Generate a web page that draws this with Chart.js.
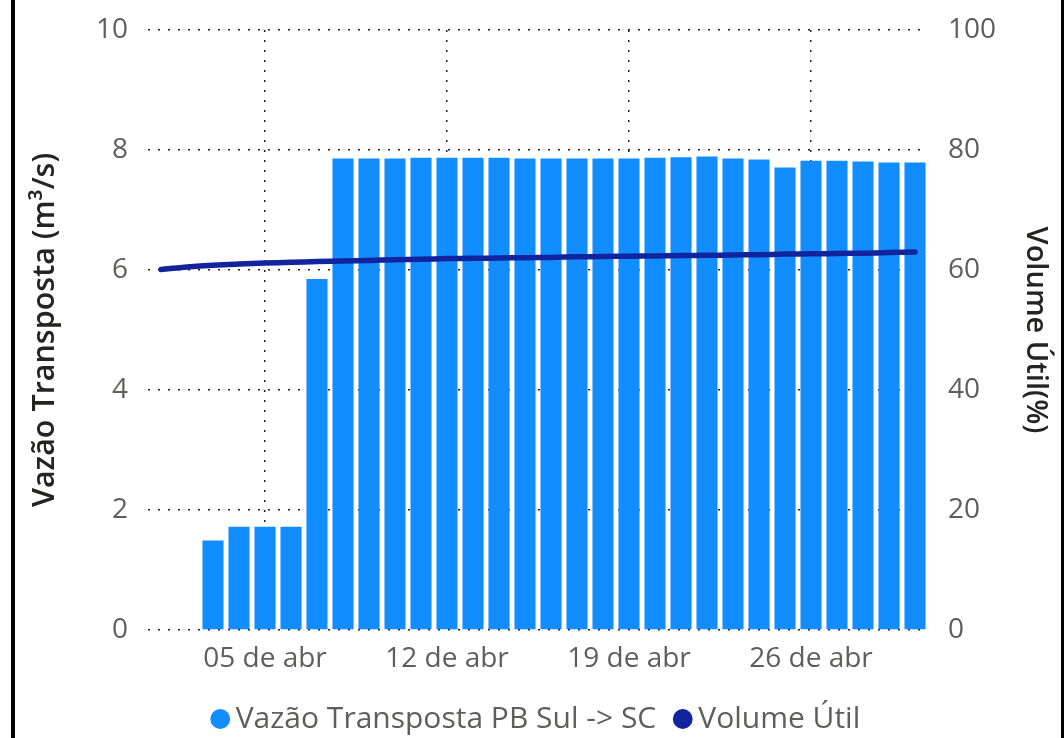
<!DOCTYPE html>
<html>
<head>
<meta charset="utf-8">
<script src="https://cdn.jsdelivr.net/npm/chart.js@4.4.1/dist/chart.umd.min.js"></script>
<style>
  html, body { margin: 0; padding: 0; background: #fff; }
  #wrap { position: relative; width: 1064px; height: 738px; overflow: hidden; }
  canvas { position: absolute; left: 0; top: 0; }
  .edge { position: absolute; top: 0; height: 738px; background: #000; }
</style>
</head>
<body>
<div id="wrap">
  <canvas id="c" width="1064" height="744"></canvas>
  <div class="edge" style="left:11px;width:4px;"></div>
  <div class="edge" style="left:1061px;width:3px;"></div>
</div>
<script>
// Days of April (category axis)
const categories = [
  '01 de abr','02 de abr','03 de abr','04 de abr','05 de abr','06 de abr','07 de abr','08 de abr','09 de abr','10 de abr',
  '11 de abr','12 de abr','13 de abr','14 de abr','15 de abr','16 de abr','17 de abr','18 de abr','19 de abr','20 de abr',
  '21 de abr','22 de abr','23 de abr','24 de abr','25 de abr','26 de abr','27 de abr','28 de abr','29 de abr','30 de abr'
];
// Vazão Transposta PB Sul -> SC (m³/s)
const vazao = [
  null, null, 1.49, 1.72, 1.72, 1.72, 5.85, 7.86, 7.86, 7.86,
  7.87, 7.87, 7.87, 7.87, 7.86, 7.86, 7.86, 7.86, 7.86, 7.87,
  7.88, 7.89, 7.86, 7.84, 7.71, 7.82, 7.82, 7.81, 7.79, 7.79
];
// Volume Útil (%)
const volumeUtil = [
  60.1, 60.5, 60.8, 61.0, 61.15, 61.3, 61.4, 61.5, 61.6, 61.7,
  61.8, 61.9, 61.95, 62.0, 62.05, 62.1, 62.2, 62.25, 62.3, 62.35,
  62.4, 62.45, 62.5, 62.55, 62.65, 62.7, 62.75, 62.8, 62.9, 63.0
];
// x tick labels that are shown
const xTickLabels = ['05 de abr', '12 de abr', '19 de abr', '26 de abr'];
const yLeftTicks = [0, 2, 4, 6, 8, 10];
const yRightTicks = [0, 20, 40, 60, 80, 100];

const FONT = "'Segoe UI', 'Open Sans', sans-serif";
const tickColor = '#605E5C';
const titleColor = '#252423';

new Chart(document.getElementById('c'), {
  data: {
    labels: categories,
    datasets: [
      {
        type: 'bar',
        label: 'Vazão Transposta PB Sul -> SC',
        data: vazao,
        backgroundColor: '#118DFF',
        borderWidth: 0,
        barPercentage: 0.81,
        categoryPercentage: 1.0,
        yAxisID: 'y',
        order: 1
      },
      {
        type: 'line',
        label: 'Volume Útil',
        data: volumeUtil,
        borderColor: '#12239E',
        backgroundColor: '#12239E',
        borderWidth: 5.5,
        pointRadius: 0,
        tension: 0.4,
        borderCapStyle: 'round',
        yAxisID: 'y1',
        order: 0
      }
    ]
  },
  options: {
    responsive: false,
    animation: false,
    devicePixelRatio: 1,
    layout: { padding: { top: 30, left: 20, right: 4, bottom: 0 } },
    plugins: {
      tooltip: { enabled: false },
      legend: {
        position: 'bottom',
        align: 'center',
        labels: {
          usePointStyle: true,
          pointStyle: 'circle',
          boxWidth: 1,
          boxHeight: 14,
          padding: 26,
          color: tickColor,
          font: { family: FONT, size: 30 },
          sort: (a, b) => a.datasetIndex - b.datasetIndex,
          generateLabels: (chart) => {
            const items = Chart.defaults.plugins.legend.labels.generateLabels(chart);
            items.forEach(it => { it.lineWidth = 0; it.strokeStyle = it.fillStyle; });
            return items;
          }
        }
      }
    },
    scales: {
      x: {
        offset: true,
        grid: {
          offset: false,
          drawTicks: false,
          lineWidth: 1.5,
          color: (ctx) => {
            const lbl = categories[ctx.index];
            return (ctx.tick && xTickLabels.includes(lbl)) ? '#222' : 'rgba(0,0,0,0)';
          }
        },
        border: { display: false, dash: [2, 8] },
        ticks: {
          autoSkip: false,
          maxRotation: 0,
          padding: 12,
          color: tickColor,
          font: { family: FONT, size: 28 },
          callback: function (value, index) {
            const lbl = categories[index];
            return xTickLabels.includes(lbl) ? lbl : '';
          }
        },
        afterFit: (s) => { s.height = 48; s.paddingLeft = 0; s.paddingRight = 0; }
      },
      y: {
        position: 'left',
        min: 0,
        max: 10,
        afterBuildTicks: (s) => { s.ticks = yLeftTicks.map(v => ({ value: v })); },
        grid: { drawTicks: false, color: '#222', lineWidth: 1.5 },
        border: { display: false, dash: [2, 8] },
        ticks: {
          padding: 20,
          color: tickColor,
          font: { family: FONT, size: 28 }
        },
        title: {
          display: true,
          text: 'Vazão Transposta (m³/s)',
          color: titleColor,
          font: { family: FONT, size: 30.5, weight: '600' },
          padding: { top: 7, bottom: 0 }
        },
        afterFit: (s) => { s.width = 128; s.paddingTop = 0; s.paddingBottom = 0; }
      },
      y1: {
        position: 'right',
        min: 0,
        max: 100,
        afterBuildTicks: (s) => { s.ticks = yRightTicks.map(v => ({ value: v })); },
        grid: { display: false, drawTicks: false },
        border: { display: false },
        ticks: {
          padding: 20,
          color: tickColor,
          font: { family: FONT, size: 28 }
        },
        title: {
          display: true,
          text: 'Volume Útil(%)',
          color: titleColor,
          font: { family: FONT, size: 29, weight: '600' },
          padding: { top: 7, bottom: 0 }
        },
        afterFit: (s) => { s.width = 132; s.paddingTop = 0; s.paddingBottom = 0; }
      }
    }
  }
});
</script>
</body>
</html>
